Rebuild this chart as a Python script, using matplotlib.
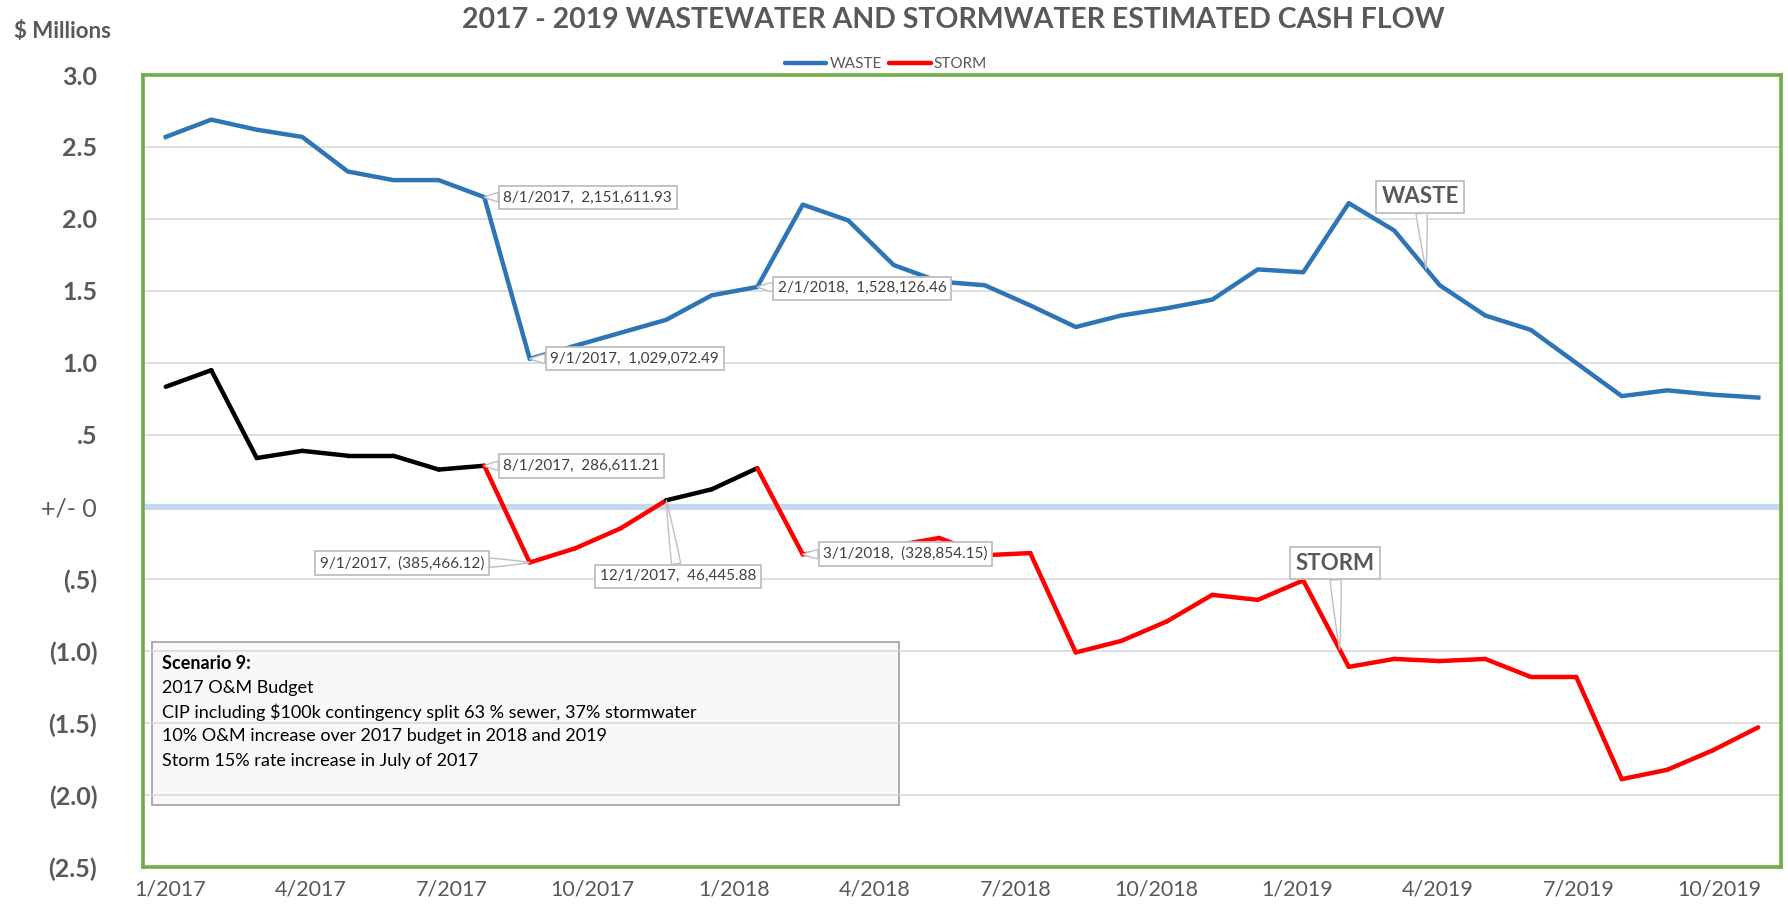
import numpy as np
import matplotlib
matplotlib.use('Agg')
import matplotlib.pyplot as plt
from matplotlib.lines import Line2D
from matplotlib.patches import Rectangle

plt.rcParams['font.family'] = ['Lato', 'DejaVu Sans']

# monthly cash flow, $ millions, Jan 2017 - Dec 2019
waste = [2.57, 2.69, 2.62, 2.57, 2.33, 2.27, 2.27, 2.15161193, 1.02907249, 1.12,
         1.21, 1.30, 1.47, 1.52812646, 2.10, 1.99, 1.68, 1.565, 1.54, 1.40,
         1.25, 1.33, 1.38, 1.44, 1.65, 1.63, 2.11, 1.92, 1.54, 1.33,
         1.23, 1.00, 0.77, 0.81, 0.78, 0.76]
storm = [0.835, 0.95, 0.34, 0.39, 0.356, 0.356, 0.26, 0.28661121, -0.38546612, -0.287,
         -0.148, 0.04644588, 0.123, 0.27, -0.32885415, -0.30, -0.27, -0.215, -0.335, -0.32,
         -1.01, -0.93, -0.795, -0.61, -0.645, -0.51, -1.11, -1.055, -1.07, -1.055,
         -1.18, -1.18, -1.89, -1.825, -1.69, -1.53]

tick_labels = ['1/2017', '4/2017', '7/2017', '10/2017', '1/2018', '4/2018',
               '7/2018', '10/2018', '1/2019', '4/2019', '7/2019', '10/2019']
y_ticks = [3.0, 2.5, 2.0, 1.5, 1.0, 0.5, 0.0, -0.5, -1.0, -1.5, -2.0, -2.5]
y_labels = ['3.0', '2.5', '2.0', '1.5', '1.0', '.5', '+/- 0',
            '(.5)', '(1.0)', '(1.5)', '(2.0)', '(2.5)']

scenario_lines = ['2017 O&M Budget',
                  'CIP including $100k contingency split 63 % sewer, 37% stormwater',
                  '10% O&M increase over 2017 budget in 2018 and 2019',
                  'Storm 15% rate increase in July of 2017']

GRAY = '#595959'
BLUE = '#2e75b6'
RED = '#ff0000'


def month_str(i):
    return f'{i % 12 + 1}/1/{2017 + i // 12}'


def money(v):
    s = f'{abs(v) * 1e6:,.2f}'
    return f'({s})' if v < 0 else s


fig = plt.figure(figsize=(17.88, 9.07), dpi=100)
ax = fig.add_axes([143 / 1788, 1 - 867 / 907, 1638 / 1788, 792 / 907])

x = np.arange(len(waste))
ax.plot(x, waste, color=BLUE, lw=3.2, zorder=3)

# storm: black while cash flow stays positive, red otherwise
for i in range(len(storm) - 1):
    c = 'black' if storm[i] >= 0 and storm[i + 1] >= 0 else RED
    ax.plot(x[i:i + 2], storm[i:i + 2], color=c, lw=3.2, zorder=3,
            solid_capstyle='round')

ax.set_xlim(-0.5, 35.5)
ax.set_ylim(-2.5, 3.0)
ax.set_yticks(y_ticks)
ax.set_yticklabels(y_labels)
# quarterly labels sit slightly wider than the month grid in the original
ax.set_xticks(np.linspace(0.1, 34.15, len(tick_labels)))
ax.set_xticklabels(tick_labels)
ax.grid(axis='y', color='#d9d9d9', lw=1.2, zorder=1)
ax.set_axisbelow(True)
ax.axhline(0, color='#c5d8ec', lw=4.5, zorder=1.5)

for sp in ax.spines.values():
    sp.set_color('#70ad47')
    sp.set_linewidth(2.6)

ax.tick_params(axis='y', length=0, pad=33, labelsize=18, labelcolor=GRAY)
ax.tick_params(axis='x', length=0, pad=9, labelsize=15.5, labelcolor=GRAY)
for t in ax.get_yticklabels():
    t.set_fontweight('normal' if t.get_text() == '+/- 0' else 'bold')

# data labels
box = dict(boxstyle='square,pad=0.3', fc='white', ec='#bfbfbf', lw=1.3)
wedge = dict(arrowstyle='wedge,tail_width=0.6,shrink_factor=0.6', fc='white',
             ec='#bfbfbf', lw=1.0, shrinkA=0, shrinkB=0)
lab_kw = dict(fontsize=11, color='#404040', bbox=box, arrowprops=wedge, zorder=5)

ax.annotate(f'{month_str(7)},  {money(waste[7])}', xy=(7, waste[7]),
            xytext=(7.42, 2.15), ha='left', va='center', **lab_kw)
ax.annotate(f'{month_str(8)},  {money(waste[8])}', xy=(8, waste[8]),
            xytext=(8.45, 1.03), ha='left', va='center', **lab_kw)
ax.annotate(f'{month_str(13)},  {money(waste[13])}', xy=(13, waste[13]),
            xytext=(13.45, 1.52), ha='left', va='center', **lab_kw)
ax.annotate(f'{month_str(7)},  {money(storm[7])}', xy=(7, storm[7]),
            xytext=(7.42, 0.285), ha='left', va='center', **lab_kw)
ax.annotate(f'{month_str(8)},  {money(storm[8])}', xy=(8, storm[8]),
            xytext=(7.0, -0.39), ha='right', va='center', **lab_kw)
ax.annotate(f'{month_str(11)},  {money(storm[11])}', xy=(11, storm[11]),
            xytext=(11.26, -0.48), ha='center', va='center', **lab_kw)
ax.annotate(f'{month_str(14)},  {money(storm[14])}', xy=(14, storm[14]),
            xytext=(14.45, -0.325), ha='left', va='center', **lab_kw)

# series name labels
name_kw = dict(fontsize=16, fontweight='bold', color=GRAY, ha='center', va='center',
               bbox=dict(boxstyle='square,pad=0.25', fc='white', ec='#bfbfbf', lw=1.3),
               arrowprops=dict(wedge, arrowstyle='wedge,tail_width=0.5,shrink_factor=0.6'),
               zorder=5)
ax.annotate('WASTE', xy=(27.7, np.interp(27.7, x, waste)), xytext=(27.57, 2.155), **name_kw)
ax.annotate('STORM', xy=(25.8, np.interp(25.8, x, storm)), xytext=(25.69, -0.39), **name_kw)

# scenario text box
ax.add_patch(Rectangle((0.0055, 0.078), 0.456, 0.206, transform=ax.transAxes,
                       fc=(0.93, 0.93, 0.93, 0.35), ec='#a6a6a6', lw=1.3, zorder=0.5))
ax.text(0.0116, 0.257, 'Scenario 9:', transform=ax.transAxes, fontsize=13,
        fontweight='bold', color='black', va='center')
for k, line in enumerate(scenario_lines):
    ax.text(0.0116, 0.257 - (k + 1) * 0.0307, line, transform=ax.transAxes,
            fontsize=13, color='black', va='center')

fig.text(953 / 1788, 1 - 20 / 907, '2017 - 2019 WASTEWATER AND STORMWATER ESTIMATED CASH FLOW',
         ha='center', va='center', fontsize=20.5, fontweight='bold', color=GRAY)
fig.text(62 / 1788, 1 - 32 / 907, '$ Millions', ha='center', va='center',
         fontsize=16, fontweight='bold', color=GRAY)

handles = [Line2D([], [], color=BLUE, lw=3.2, solid_capstyle='round'),
           Line2D([], [], color=RED, lw=3.2, solid_capstyle='round')]
fig.legend(handles, ['WASTE', 'STORM'], loc='center', bbox_to_anchor=(886 / 1788, 1 - 64 / 907),
           ncol=2, frameon=False, fontsize=11, handlelength=2.7, handletextpad=0.2,
           columnspacing=0.5, labelcolor=GRAY)

fig.savefig('out.png', dpi=100)
